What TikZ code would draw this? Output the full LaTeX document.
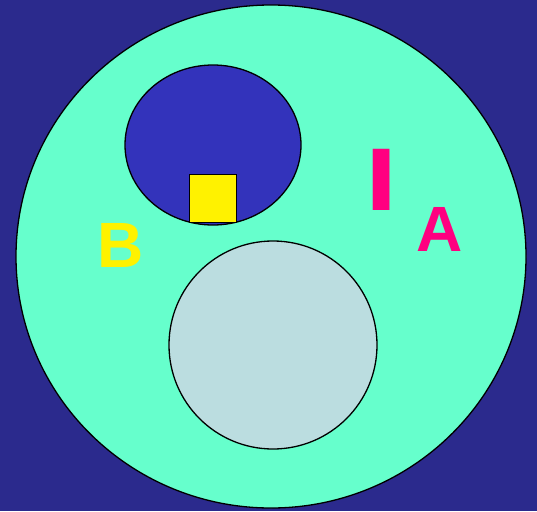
\documentclass[tikz,border=0pt]{standalone}
\usepackage{fontspec}
\setmainfont{Liberation Sans}
\definecolor{bgblue}{HTML}{2B2A8D}
\definecolor{mint}{HTML}{66FFCC}
\definecolor{innerblue}{HTML}{3333BB}
\definecolor{pale}{HTML}{BBDDE0}
\definecolor{mag}{HTML}{FF0080}
\begin{document}
\begin{tikzpicture}[x=1pt,y=-1pt,
  shape line/.style={draw=black,line width=1.3pt},
  lbl/.style={inner sep=0pt,font=\bfseries}]
\fill[bgblue] (0,0) rectangle (537,511);
\useasboundingbox (0,0) rectangle (537,511);
\path[shape line,fill=mint] (271,256.5) ellipse [x radius=255,y radius=251.5];
\path[shape line,fill=innerblue] (213,145) ellipse [x radius=88,y radius=80];
\node[shape line,fill=yellow,minimum width=47pt,minimum height=48pt,inner sep=0pt] (sq) at (213,198.5) {};
\path[shape line,fill=pale] (273,345) circle [radius=104];
\node[lbl,text=mag,font=\bfseries\fontsize{89}{89}\selectfont,xscale=1.3] (I) at (381.5,180) {I};
\node[lbl,text=mag,font=\bfseries\fontsize{64}{64}\selectfont] (A) at (440,229) {A};
\node[lbl,text=yellow,font=\bfseries\fontsize{64}{64}\selectfont] (B) at (121,245) {B};
\end{tikzpicture}
\end{document}
